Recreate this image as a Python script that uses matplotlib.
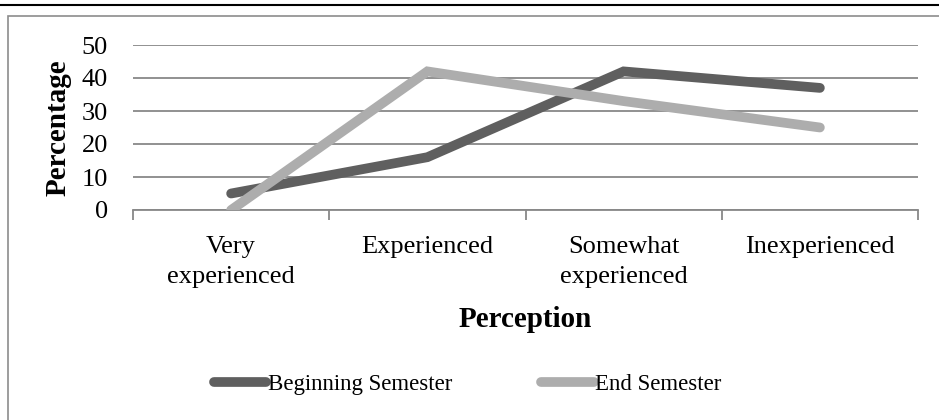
import numpy as np
import matplotlib
matplotlib.use('Agg')
import matplotlib.pyplot as plt
from matplotlib.lines import Line2D
from matplotlib.patches import Rectangle

categories = ['Very\nexperienced', 'Experienced', 'Somewhat\nexperienced', 'Inexperienced']
beginning = [5, 16, 42, 37]
end_sem = [0, 42, 33, 25]
series_names = ['Beginning Semester', 'End Semester']
yticks = [0, 10, 20, 30, 40, 50]

plt.rcParams['font.family'] = ['Liberation Serif', 'DejaVu Serif']

fig = plt.figure(figsize=(9.39, 4.2), dpi=100)

# outer frame: black rule on top, gray box below it
fig.add_artist(Line2D([0, 1], [1 - 5/420, 1 - 5/420], color='black', lw=1.5,
                      transform=fig.transFigure))
fig.add_artist(Rectangle((8/939, -0.05), 1.2, 1 - 16/420 + 0.05, transform=fig.transFigure,
                         fill=False, ec='#8c8c8c', lw=1.2))

ax = fig.add_axes([133/939, 0.5, (918-133)/939, (210-45)/420])

x = np.arange(len(categories)) + 0.5
ax.plot(x, beginning, color='#5f5f5f', lw=7, solid_capstyle='round',
        solid_joinstyle='miter', label=series_names[0], zorder=3)
ax.plot(x, end_sem, color='#adadad', lw=7, solid_capstyle='round',
        solid_joinstyle='miter', label=series_names[1], zorder=3)

ax.set_xlim(0, len(categories))
ax.set_ylim(0, 50)
ax.set_yticks(yticks)
ax.set_yticklabels([str(v) for v in yticks], fontsize=19)
ax.yaxis.grid(True, color='#888888', lw=1.3)
ax.set_axisbelow(True)
ax.tick_params(axis='y', length=0, pad=18)

ax.set_xticks(np.arange(len(categories) + 1))
ax.set_xticklabels([])
ax.set_xticks(x, minor=True)
ax.set_xticklabels(categories, minor=True, fontsize=19, linespacing=1.45)
ax.tick_params(axis='x', which='major', length=7, color='#888888', width=1.3, direction='out')
ax.tick_params(axis='x', which='minor', length=0, pad=19)

for s in ['top', 'right', 'left']:
    ax.spines[s].set_visible(False)
ax.spines['bottom'].set_color('#888888')
ax.spines['bottom'].set_linewidth(1.3)

ax.set_ylabel('Percentage', fontsize=21, fontweight='bold')
ax.yaxis.set_label_coords((72 - 133) / 785, 0.5)
ax.set_xlabel('Perception', fontsize=21, fontweight='bold', labelpad=13)

fig.legend(loc='center', bbox_to_anchor=(0.498, 1 - 384/420), ncol=2, frameon=False,
           fontsize=16.5, handlelength=2.3, handletextpad=0.05, columnspacing=3.9)

fig.savefig('out.png', dpi=100)
